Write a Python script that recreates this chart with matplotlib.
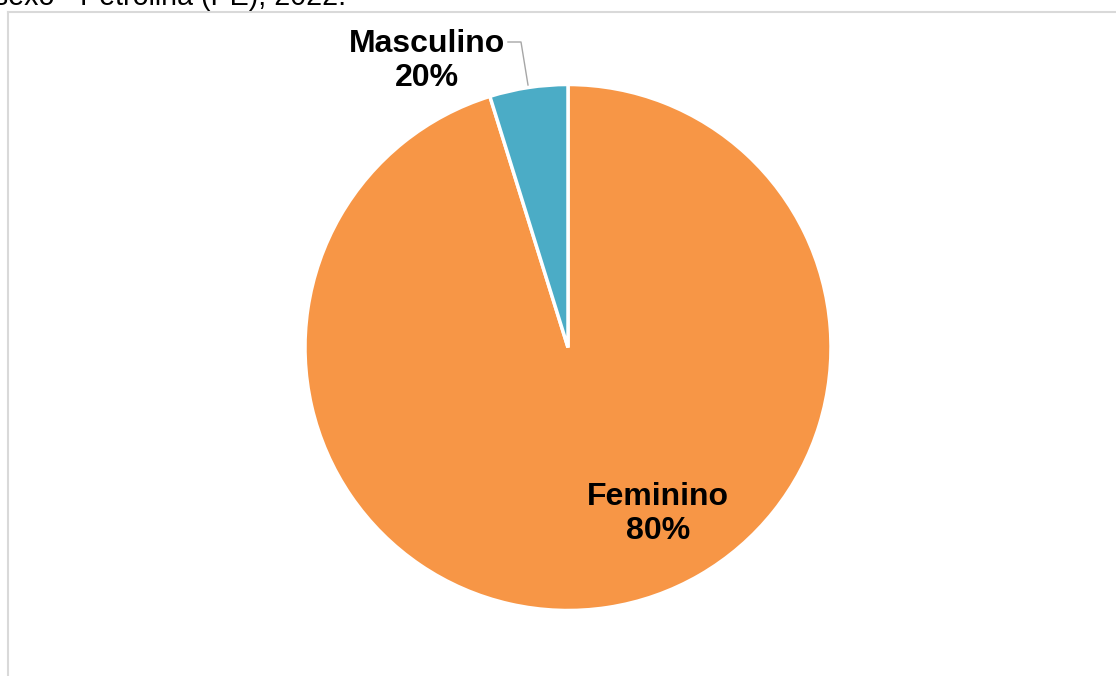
import matplotlib
matplotlib.use("Agg")
import matplotlib.pyplot as plt
from matplotlib.lines import Line2D

plt.rcParams['font.family'] = ['Liberation Sans', 'DejaVu Sans']

categories = ["Feminino", "Masculino"]
slice_values = [95.2, 4.8]          # visual share of each slice as drawn
label_percent = ["80%", "20%"]      # percentages printed on the chart
colors = ["#F79646", "#4BACC6"]
title_text = "Distribuição por sexo - Petrolina (PE), 2022."

W, H, DPI = 1116, 676, 100
fig = plt.figure(figsize=(W / DPI, H / DPI), dpi=DPI)
fig.patch.set_facecolor("white")

# chart area border (left and top lines)
fig.add_artist(Line2D([7.5 / W, 7.5 / W], [0, 1 - 11.5 / H], color="#D9D9D9", lw=1.5, transform=fig.transFigure))
fig.add_artist(Line2D([7.5 / W, 1], [1 - 11.5 / H, 1 - 11.5 / H], color="#D9D9D9", lw=1.5, transform=fig.transFigure))

# clipped caption at top
fig.text(346 / W, 1 - 5 / H, title_text, ha="right", va="baseline", fontsize=20.6, color="black")

cx, cy, r = 568, 347.5, 263
ax = fig.add_axes([(cx - r) / W, (H - cy - r) / H, 2 * r / W, 2 * r / H])
wedges, _ = ax.pie(slice_values, colors=colors, startangle=90, counterclock=False,
                   wedgeprops=dict(edgecolor="white", linewidth=2.5), radius=1)
ax.set_xlim(-1, 1)
ax.set_ylim(-1, 1)
ax.set_aspect("equal")
ax.axis("off")

def px(x, y):
    return x / W, 1 - y / H

# labels
fx, fy = px(658, 514)
fig.text(fx, fy, f"{categories[0]}\n{label_percent[0]}", ha="center", va="center",
         fontsize=23, fontweight="bold", linespacing=1.15)
mx, my = px(427, 61)
fig.text(mx, my, f"{categories[1]}\n{label_percent[1]}", ha="center", va="center",
         fontsize=23, fontweight="bold", linespacing=1.15)

# leader line for Masculino
xs = [508 / W, 521 / W, 528 / W]
ys = [1 - 42 / H, 1 - 42 / H, 1 - 85 / H]
fig.add_artist(Line2D(xs, ys, color="#A6A6A6", lw=1, transform=fig.transFigure))

fig.savefig("out.png", dpi=DPI)
